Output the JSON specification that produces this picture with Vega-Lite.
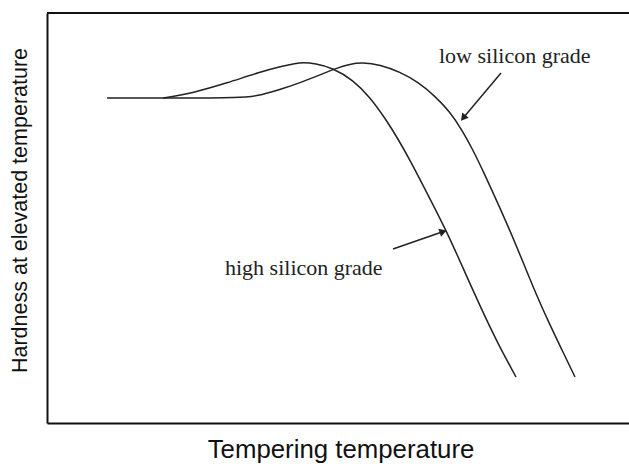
{
  "$schema": "https://vega.github.io/schema/vega-lite/v6.json",
  "width": 582,
  "height": 410,
  "autosize": {"type": "none"},
  "padding": {"left": 47, "top": 13, "right": 0, "bottom": 41},
  "background": "white",
  "config": {
    "view": {"stroke": null},
    "axis": {"ticks": false, "labels": false, "grid": false, "domainColor": "#111", "domainWidth": 2, "titleFont": "Liberation Sans", "titleFontWeight": "normal", "titleColor": "#111"}
  },
  "datasets": {
    "curves": [
      {"grade": "high silicon grade", "t": 116, "h": 325},
      {"grade": "high silicon grade", "t": 146, "h": 330},
      {"grade": "high silicon grade", "t": 180, "h": 340},
      {"grade": "high silicon grade", "t": 213, "h": 351},
      {"grade": "high silicon grade", "t": 236, "h": 357},
      {"grade": "high silicon grade", "t": 248, "h": 359.5},
      {"grade": "high silicon grade", "t": 256, "h": 360.5},
      {"grade": "high silicon grade", "t": 268, "h": 359.5},
      {"grade": "high silicon grade", "t": 286, "h": 355},
      {"grade": "high silicon grade", "t": 306, "h": 343},
      {"grade": "high silicon grade", "t": 323, "h": 326},
      {"grade": "high silicon grade", "t": 340, "h": 302},
      {"grade": "high silicon grade", "t": 351, "h": 284},
      {"grade": "high silicon grade", "t": 363, "h": 263},
      {"grade": "high silicon grade", "t": 381, "h": 228},
      {"grade": "high silicon grade", "t": 400, "h": 191},
      {"grade": "high silicon grade", "t": 416, "h": 155},
      {"grade": "high silicon grade", "t": 433, "h": 117},
      {"grade": "high silicon grade", "t": 450, "h": 81},
      {"grade": "high silicon grade", "t": 469, "h": 46},
      {"grade": "low silicon grade", "t": 60, "h": 325},
      {"grade": "low silicon grade", "t": 118, "h": 325},
      {"grade": "low silicon grade", "t": 196, "h": 325},
      {"grade": "low silicon grade", "t": 215, "h": 328},
      {"grade": "low silicon grade", "t": 235, "h": 334},
      {"grade": "low silicon grade", "t": 255, "h": 341},
      {"grade": "low silicon grade", "t": 275, "h": 349},
      {"grade": "low silicon grade", "t": 290, "h": 355},
      {"grade": "low silicon grade", "t": 303, "h": 359},
      {"grade": "low silicon grade", "t": 315, "h": 360.5},
      {"grade": "low silicon grade", "t": 333, "h": 358.5},
      {"grade": "low silicon grade", "t": 353, "h": 351},
      {"grade": "low silicon grade", "t": 371, "h": 341},
      {"grade": "low silicon grade", "t": 388, "h": 327},
      {"grade": "low silicon grade", "t": 403, "h": 311},
      {"grade": "low silicon grade", "t": 415, "h": 293},
      {"grade": "low silicon grade", "t": 426, "h": 273},
      {"grade": "low silicon grade", "t": 437, "h": 250},
      {"grade": "low silicon grade", "t": 448, "h": 226},
      {"grade": "low silicon grade", "t": 461, "h": 197},
      {"grade": "low silicon grade", "t": 476, "h": 161},
      {"grade": "low silicon grade", "t": 489, "h": 129},
      {"grade": "low silicon grade", "t": 502, "h": 100},
      {"grade": "low silicon grade", "t": 515, "h": 73},
      {"grade": "low silicon grade", "t": 528, "h": 46}
    ],
    "notes": [
      {"label": "low silicon grade", "tx": 392, "ty": 360, "x": 454, "y": 350, "x2": 417, "y2": 306, "hx": 417, "hy": 306},
      {"label": "high silicon grade", "tx": 178, "ty": 148, "x": 346, "y": 174, "x2": 395, "y2": 191, "hx": 395, "hy": 191}
    ]
  },
  "layer": [
    {
      "data": {"name": "curves"},
      "mark": {"type": "line", "interpolate": "basis", "color": "#222", "strokeWidth": 1.5},
      "encoding": {
        "x": {"field": "t", "type": "quantitative", "scale": {"domain": [0, 582], "nice": false, "zero": false}, "axis": {"title": "Tempering temperature", "titleFontSize": 25.8, "titlePadding": 14, "titleX": 293.5}},
        "y": {"field": "h", "type": "quantitative", "scale": {"domain": [0, 410], "nice": false, "zero": false}, "axis": {"title": "Hardness at elevated temperature", "titleFontSize": 21.5, "titlePadding": 16, "titleY": 197}},
        "detail": {"field": "grade"}
      }
    },
    {
      "data": {"values": [{}]},
      "mark": {"type": "rule", "color": "#111", "strokeWidth": 2},
      "encoding": {"y": {"datum": 410}}
    },
    {
      "data": {"name": "notes"},
      "mark": {"type": "rule", "color": "#222", "strokeWidth": 1.5},
      "encoding": {
        "x": {"field": "x", "type": "quantitative"},
        "y": {"field": "y", "type": "quantitative"},
        "x2": {"field": "x2"},
        "y2": {"field": "y2"}
      }
    },
    {
      "data": {"name": "notes"},
      "transform": [{"filter": "datum.label == 'low silicon grade'"}],
      "mark": {"type": "point", "shape": "triangle", "filled": true, "color": "#222", "size": 70, "angle": 219, "opacity": 1},
      "encoding": {
        "x": {"field": "hx", "type": "quantitative"},
        "y": {"field": "hy", "type": "quantitative"}
      }
    },
    {
      "data": {"name": "notes"},
      "transform": [{"filter": "datum.label == 'high silicon grade'"}],
      "mark": {"type": "point", "shape": "triangle", "filled": true, "color": "#222", "size": 70, "angle": 71, "opacity": 1},
      "encoding": {
        "x": {"field": "hx", "type": "quantitative"},
        "y": {"field": "hy", "type": "quantitative"}
      }
    },
    {
      "data": {"name": "notes"},
      "mark": {"type": "text", "font": "Liberation Serif", "fontSize": 22, "align": "left", "baseline": "alphabetic", "color": "#222"},
      "encoding": {
        "x": {"field": "tx", "type": "quantitative"},
        "y": {"field": "ty", "type": "quantitative"},
        "text": {"field": "label"}
      }
    }
  ]
}
